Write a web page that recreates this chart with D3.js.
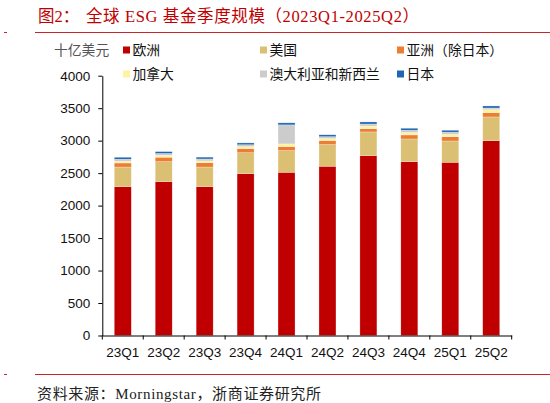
<!DOCTYPE html>
<html>
<head>
<meta charset="utf-8">
<script src="https://cdn.jsdelivr.net/npm/d3@7"></script>
<style>
  body { margin: 0; background: #fff; }
  svg { display: block; }
</style>
</head>
<body>
<script>
// quarters and regional ESG fund assets (billion USD)
const quarters = ["23Q1", "23Q2", "23Q3", "23Q4", "24Q1", "24Q2", "24Q3", "24Q4", "25Q1", "25Q2"];
const europe = [2291, 2369, 2291, 2492, 2513, 2606, 2769, 2677, 2667, 3000];
const usa = [303, 308, 303, 323, 334, 334, 365, 349, 328, 365];
const asiaExJapan = [62, 68, 66, 62, 62, 62, 51, 62, 66, 66];
const canada = [28, 30, 28, 32, 41, 32, 38, 38, 37, 46];
const ausNz = [30, 28, 30, 28, 293, 28, 33, 35, 33, 26];
const japan = [30, 28, 28, 28, 31, 28, 32, 30, 29, 31];
const seriesNames = ["欧洲", "美国", "亚洲（除日本）", "加拿大", "澳大利亚和新西兰", "日本"];
const yTicks = [0, 500, 1000, 1500, 2000, 2500, 3000, 3500, 4000];

const colors = ["#C00000", "#DBC073", "#ED7D31", "#FFF2A1", "#CCCCCC", "#1F66B5"];
const sansFont = "'Liberation Sans', Arial, sans-serif";
const cjkFont = "'Liberation Sans', 'Noto Sans CJK SC', sans-serif";
const serifFont = "'Liberation Serif', 'Noto Sans CJK SC', serif";

const svg = d3.select("body").append("svg")
  .attr("width", 550)
  .attr("height", 403);

// title + rules
svg.append("text")
  .attr("x", 38).attr("y", 21.5)
  .attr("fill", "#C00000")
  .style("font-family", serifFont)
  .style("font-size", "16.5px")
  .text("图2：");
svg.append("text")
  .attr("x", 86).attr("y", 21.5)
  .attr("fill", "#C00000")
  .attr("textLength", 333)
  .attr("lengthAdjust", "spacing")
  .style("font-family", serifFont)
  .style("font-size", "16.5px")
  .text("全球 ESG 基金季度规模（2023Q1-2025Q2）");

[32.5, 374.5].forEach(yy => {
  svg.append("line").attr("x1", 35).attr("x2", 550).attr("y1", yy).attr("y2", yy)
    .attr("stroke", "#C8262B").attr("stroke-width", 1);
  svg.append("line").attr("x1", 4).attr("x2", 7).attr("y1", yy).attr("y2", yy)
    .attr("stroke", "#C8262B").attr("stroke-width", 1);
});

svg.append("text")
  .attr("x", 37).attr("y", 399)
  .attr("fill", "#222")
  .attr("textLength", 284)
  .attr("lengthAdjust", "spacing")
  .style("font-family", serifFont)
  .style("font-size", "15px")
  .text("资料来源：Morningstar，浙商证券研究所");

// plot area
const plot = { left: 102.3, right: 511.7, top: 75.7, bottom: 335.5 };

const x = d3.scaleBand()
  .domain(quarters)
  .range([plot.left, plot.right])
  .paddingInner(0.585)
  .paddingOuter(0.2925);

const y = d3.scaleLinear()
  .domain([0, 4000])
  .range([plot.bottom, plot.top]);

const rows = quarters.map((q, i) => ({
  q,
  s0: europe[i], s1: usa[i], s2: asiaExJapan[i], s3: canada[i], s4: ausNz[i], s5: japan[i]
}));
const stacked = d3.stack().keys(["s0", "s1", "s2", "s3", "s4", "s5"])(rows);

svg.append("g")
  .selectAll("g")
  .data(stacked)
  .join("g")
    .attr("fill", (d, i) => colors[i])
  .selectAll("rect")
  .data(d => d)
  .join("rect")
    .attr("x", d => x(d.data.q))
    .attr("width", x.bandwidth())
    .attr("y", d => y(d[1]))
    .attr("height", d => y(d[0]) - y(d[1]))
    .attr("stroke", "#fff")
    .attr("stroke-opacity", 0.5)
    .attr("stroke-width", 0.5);

// y axis
const yAxis = svg.append("g")
  .attr("transform", `translate(${plot.left},0)`)
  .call(d3.axisLeft(y).tickValues(yTicks).tickFormat(d3.format("d"))
    .tickSizeInner(4).tickSizeOuter(0).tickPadding(8));
yAxis.select(".domain").attr("stroke", "#000");
yAxis.selectAll(".tick line").attr("stroke", "#000");
yAxis.selectAll("text")
  .attr("fill", "#111")
  .style("font-family", sansFont)
  .style("font-size", "13.5px");

// x axis: labels centred, tick marks at category boundaries
const xAxis = svg.append("g")
  .attr("transform", `translate(0,${plot.bottom})`)
  .call(d3.axisBottom(x).tickSizeInner(0).tickSizeOuter(0).tickPadding(12));
xAxis.select(".domain").attr("stroke", "#000");
xAxis.selectAll("text")
  .attr("fill", "#111")
  .style("font-family", sansFont)
  .style("font-size", "13.5px");
xAxis.selectAll(".boundary")
  .data(d3.range(quarters.length + 1))
  .join("line")
    .attr("class", "boundary")
    .attr("x1", i => plot.left + i * x.step())
    .attr("x2", i => plot.left + i * x.step())
    .attr("y1", 0)
    .attr("y2", 4)
    .attr("stroke", "#000");

// unit label
svg.append("text")
  .attr("x", 54).attr("y", 50)
  .attr("dy", "0.35em")
  .attr("fill", "#555")
  .style("font-family", cjkFont)
  .style("font-size", "13.8px")
  .text("十亿美元");

// legend
const legend = svg.append("g");
seriesNames.forEach((name, i) => {
  const lx = [123, 260, 397][i % 3];
  const ly = [50, 74][Math.floor(i / 3)];
  legend.append("rect")
    .attr("x", lx).attr("y", ly - 3.5)
    .attr("width", 7).attr("height", 7)
    .attr("fill", colors[i]);
  legend.append("text")
    .attr("x", lx + 9.5).attr("y", ly)
    .attr("dy", "0.35em")
    .attr("fill", "#111")
    .style("font-family", cjkFont)
    .style("font-size", "13.8px")
    .text(name);
});
</script>
</body>
</html>
